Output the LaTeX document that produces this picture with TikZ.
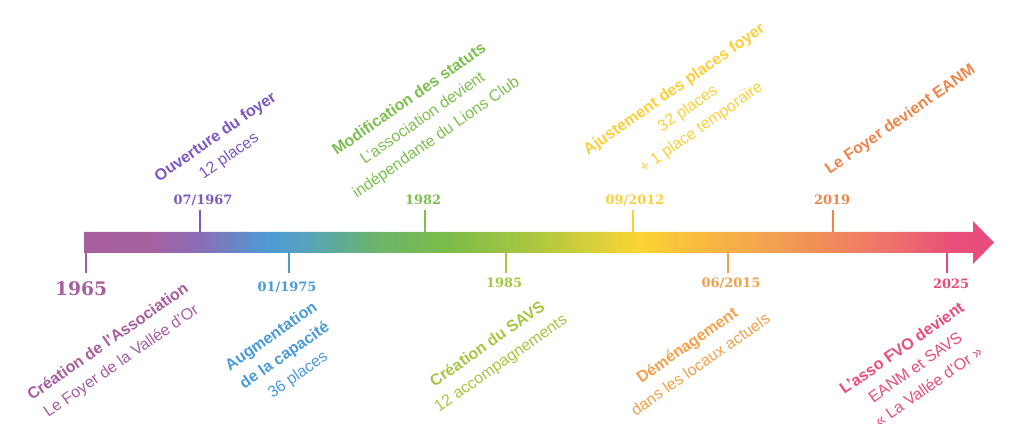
\documentclass[tikz,border=0pt]{standalone}
\usepackage{fontspec}
\setmainfont{Liberation Sans}
\newfontfamily\datefont{DejaVu Serif}
\definecolor{cA}{HTML}{A65E9F}
\definecolor{cB}{HTML}{7E57C2}
\definecolor{cC}{HTML}{4A9AD8}
\definecolor{cD}{HTML}{7CBF4E}
\definecolor{cE}{HTML}{A5C640}
\definecolor{cF}{HTML}{FBCF3A}
\definecolor{cG}{HTML}{F4A04B}
\definecolor{cH}{HTML}{EE8447}
\definecolor{cI}{HTML}{E84C7A}
\definecolor{s1}{HTML}{A85F9E}
\definecolor{s2}{HTML}{A660A0}
\definecolor{s3}{HTML}{8A6EB5}
\definecolor{s4}{HTML}{4E9AD4}
\definecolor{s5}{HTML}{54A1C2}
\definecolor{s6}{HTML}{6CB46C}
\definecolor{s7}{HTML}{7CBC48}
\definecolor{s8}{HTML}{B0C840}
\definecolor{s9}{HTML}{FCD535}
\definecolor{s10}{HTML}{F9C23C}
\definecolor{s11}{HTML}{F4A54E}
\definecolor{s12}{HTML}{F08A5C}
\definecolor{s13}{HTML}{EC6E6E}
\definecolor{s14}{HTML}{E8507A}
\definecolor{s15}{HTML}{E84C7C}
\pgfdeclarehorizontalshading{timeline}{100bp}{color(0bp)=(s1); color(25bp)=(s1); color(28.63bp)=(s2); color(31.37bp)=(s3); color(34.95bp)=(s4); color(36.87bp)=(s5); color(40.99bp)=(s6); color(45.11bp)=(s7); color(50.05bp)=(s8); color(55.55bp)=(s9); color(57.75bp)=(s10); color(62.14bp)=(s11); color(66bp)=(s12); color(69.84bp)=(s13); color(72.58bp)=(s14); color(75bp)=(s15); color(100bp)=(s15)}
\tikzset{
  datelbl/.style={font=\datefont\bfseries\fontsize{9.7}{10}\selectfont, inner sep=0pt},
  bigdate/.style={font=\datefont\bfseries\fontsize{14}{15}\selectfont, inner sep=0pt},
  evt/.style={rotate=35, align=center, inner sep=0pt, font=\fontsize{12}{17.5}\selectfont},
  tickline/.style={line width=1.5pt}
}
\begin{document}
\begin{tikzpicture}[x=0.75pt, y=-0.75pt]
\useasboundingbox (0,0) rectangle (1024,438);
% arrow bar
\shade[shading=timeline] (84,232) -- (973,232) -- (973,221) -- (994,242.5) -- (973,264) -- (973,253) -- (84,253) -- cycle;
% ticks
\draw[tickline, cA] (86,253) -- (86,273);
\draw[tickline, cB] (200,232) -- (200,210);
\draw[tickline, cC] (289,253) -- (289,273);
\draw[tickline, cD] (425,232) -- (425,210);
\draw[tickline, cE] (506,253) -- (506,273);
\draw[tickline, cF] (633,232) -- (633,210);
\draw[tickline, cG] (728,253) -- (728,273);
\draw[tickline, cH] (833,232) -- (833,210);
\draw[tickline, cI] (947,253) -- (947,273);
% dates
\node[bigdate, text=cA] (d1965) at (81,289) {1965};
\node[datelbl, text=cB] (d1967) at (203,200) {07/1967};
\node[datelbl, text=cC] (d1975) at (287,287) {01/1975};
\node[datelbl, text=cD] (d1982) at (423,200) {1982};
\node[datelbl, text=cE] (d1985) at (504,283) {1985};
\node[datelbl, text=cF] (d2012) at (635,200) {09/2012};
\node[datelbl, text=cG] (d2015) at (731,283) {06/2015};
\node[datelbl, text=cH] (d2019) at (832,200) {2019};
\node[datelbl, text=cI] (d2025) at (951,284) {2025};
% events
\node[evt, text=cA] (creation) at (115,352) {\textbf{Création de l’Association}\\Le Foyer de la Vallée d’Or};
\node[evt, text=cB] (ouverture) at (222.5,147) {\textbf{Ouverture du foyer}\\12 places};
\node[evt, text=cC] (augment) at (285,356) {\textbf{Augmentation}\\\textbf{de la capacité}\\36 places};
\node[evt, text=cD] (modif) at (423,119) {\textbf{Modification des statuts}\\L’association devient\\indépendante du Lions Club};
\node[evt, text=cE] (savs) at (494.5,354.5) {\textbf{Création du SAVS}\\12 accompagnements};
\node[evt, text=cF] (ajust) at (688,109) {\textbf{Ajustement des places foyer}\\32 places\\+ 1 place temporaire};
\node[evt, text=cG] (demenag) at (693.5,354.5) {\textbf{Déménagement}\\dans les locaux actuels};
\node[evt, text=cH] (eanm) at (900.5,120) {\textbf{Le Foyer devient EANM}};
\node[evt, text=cI] (asso) at (915,367) {\textbf{L’asso FVO devient}\\EANM et SAVS\\« La Vallée d’Or »};
\end{tikzpicture}
\end{document}
